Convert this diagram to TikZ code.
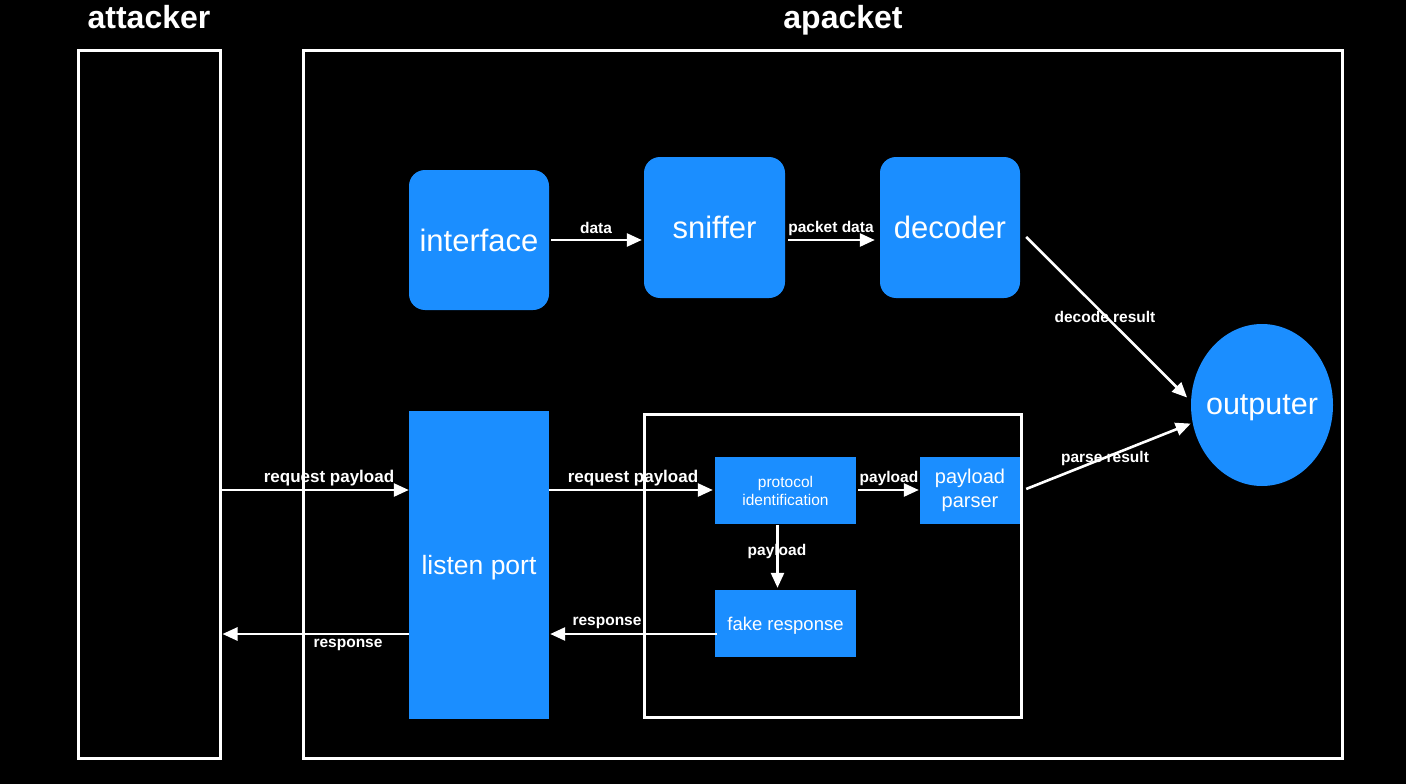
\documentclass[tikz,border=0pt]{standalone}
\usepackage{fontspec}
\setmainfont{Liberation Sans}
\usetikzlibrary{arrows.meta,calc,shapes.geometric}
\definecolor{blu}{RGB}{27,142,255}
\begin{document}
\begin{tikzpicture}[x=1pt,y=-1pt,
  frame/.style={draw=white,line width=3pt},
  rbox/.style={fill=blu,rounded corners=16pt,minimum width=140pt,minimum height=140pt,inner sep=0pt,text=white,font=\fontsize{31}{33}\selectfont},
  sbox/.style={fill=blu,inner sep=0pt,text=white,align=center},
  arr/.style={draw=white,line width=2.6pt,-{Triangle[length=15pt,width=13pt]}},
  lab/.style={text=white,font=\bfseries\fontsize{15.5}{17}\selectfont,inner sep=0pt},
  blab/.style={lab,font=\bfseries\fontsize{17}{19}\selectfont},
  ttl/.style={text=white,font=\bfseries\fontsize{32}{34}\selectfont,inner sep=0pt,anchor=base}]
\useasboundingbox[fill=black] (0,0) rectangle (1406,784);
% titles
\node[ttl] (tatt) at (149,29) {attacker};
\node[ttl] (tapk) at (843,29) {apacket};
% frames
\node[frame,minimum width=142pt,minimum height=707pt,inner sep=0pt] (attacker) at (149,404.5) {};
\draw[frame] (303,51) rectangle (1342,758);
\draw[frame] (644,414) rectangle (1021,717);
% top row
\node[rbox] (interface) at (479,240) {interface};
\node[rbox,minimum width=141pt,minimum height=141pt] (sniffer) at (714.5,227.5) {sniffer};
\node[rbox,minimum height=141pt] (decoder) at (950,227.5) {decoder};
\node[ellipse,fill=blu,minimum width=142pt,minimum height=162pt,inner sep=-30pt,text depth=0pt,text=white,font=\fontsize{30.5}{32}\selectfont] (outputer) at (1262,405) {outputer};
% bottom
\node[sbox,minimum width=140pt,minimum height=308pt,text depth=0pt,font=\fontsize{26.5}{28}\selectfont] (listen) at (479,565) {listen port};
\node[sbox,minimum width=141pt,minimum height=67pt,font=\fontsize{15.5}{18}\selectfont] (proto) at (785.5,490.5) {protocol\\identification};
\node[sbox,minimum width=100pt,minimum height=67pt,font=\fontsize{20}{24}\selectfont] (parser) at (970,490.5) {payload\\parser};
\node[sbox,minimum width=141pt,minimum height=67pt,text depth=0pt,font=\fontsize{18.5}{20}\selectfont] (fake) at (785.5,623.5) {fake response};
% coordinates
\coordinate (yreq) at (0,490);
\coordinate (yres) at (0,634);
% arrows
\draw[arr] ($(interface.east)+(2,0)$) -- ($(sniffer.west|-interface.east)+(-2,0)$);
\node[lab] (ldata) at (596,228) {data};
\draw[arr] ($(sniffer.east|-interface.east)+(3,0)$) -- ($(decoder.west|-interface.east)+(-5,0)$);
\node[lab] (lpkt) at (831,228) {packet data};
\draw[arr] ($(decoder.east)+(6,9.5)$) -- ($(outputer.174)+(-4,0)$);
\node[lab] (ldec) at (1105,317) {decode result};
\draw[arr] ($(parser.east)+(6,-1.5)$) -- ($(outputer.195)+(-2,0)$);
\node[lab] (lpar) at (1105,458) {parse result};
\draw[arr] (attacker.east|-yreq) -- (listen.west|-yreq);
\node[blab] (lreq1) at (329,478) {request payload};
\draw[arr] (listen.east|-yreq) -- ($(proto.west|-yreq)+(-2,0)$);
\node[blab] (lreq2) at (633,478) {request payload};
\draw[arr] ($(proto.east|-yreq)+(2,0)$) -- ($(parser.west|-yreq)+(-1,0)$);
\node[lab] (lpay1) at (889,478) {payload};
\draw[arr] ($(proto.south)+(-8,1)$) -- ($(fake.north)+(-8,-2)$);
\node[lab] (lpay2) at (777,551) {payload};
\draw[arr] ($(fake.west|-yres)+(2,0)$) -- ($(listen.east|-yres)+(1,0)$);
\node[lab] (lres1) at (607,623) {response};
\draw[arr] (listen.west|-yres) -- ($(attacker.east|-yres)+(1,0)$);
\node[lab] (lres2) at (348,645) {response};
\end{tikzpicture}
\end{document}
